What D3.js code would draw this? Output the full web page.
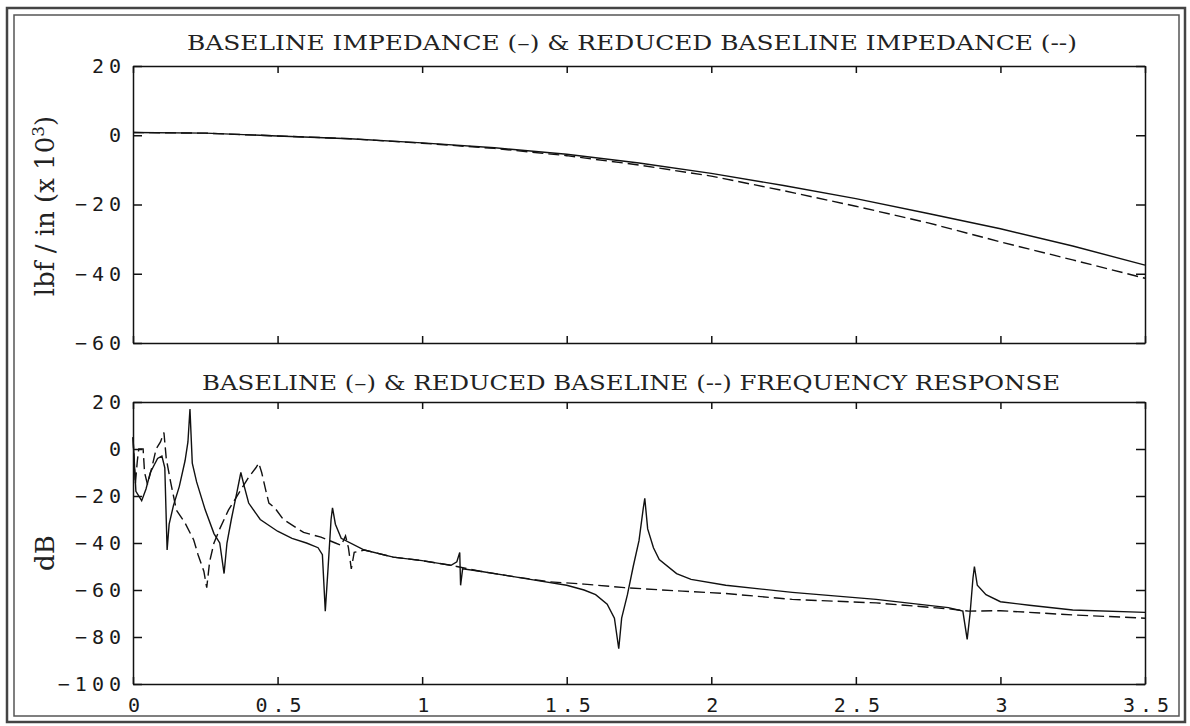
<!DOCTYPE html>
<html>
<head>
<meta charset="utf-8">
<script src="https://cdn.jsdelivr.net/npm/d3@7"></script>
<style>
  body { margin: 0; background: #fff; }
  .tick text { font-family: "DejaVu Sans Mono", monospace; font-size: 20px; fill: #1a1a1a; letter-spacing: 5px; }
  .title { font-family: "DejaVu Serif", serif; font-size: 21px; fill: #222; }
  .axisText { font-family: "DejaVu Serif", serif; fill: #222; }
</style>
</head>
<body>
<script>
// Top panel: impedance (lbf/in x 10^3) vs frequency
var impFreq = [0, 0.25, 0.5, 0.75, 1.0, 1.25, 1.5, 1.75, 2.0, 2.25, 2.5, 2.75, 3.0, 3.25, 3.5];
var impBaseline = [0.8, 0.6, -0.2, -1.0, -2.2, -3.6, -5.5, -8.0, -11.0, -14.5, -18.3, -22.6, -27.0, -32.0, -37.5];
var impReduced = [0.8, 0.6, -0.2, -1.0, -2.3, -3.8, -5.9, -8.6, -11.8, -16.0, -20.5, -25.3, -30.8, -36.0, -41.3];

// Bottom panel: frequency response (dB)
var frfBaseFreq = [0, 0.01, 0.03, 0.045, 0.06, 0.085, 0.1, 0.11, 0.115, 0.118, 0.125, 0.14, 0.16, 0.18, 0.19, 0.197,
  0.205, 0.22, 0.25, 0.28, 0.3, 0.315, 0.325, 0.34, 0.36, 0.373, 0.385, 0.4, 0.44, 0.5, 0.55, 0.6, 0.64, 0.655,
  0.665, 0.675, 0.685, 0.69, 0.7, 0.72, 0.8, 0.9, 1.0, 1.1, 1.12, 1.13, 1.133, 1.14, 1.2, 1.3, 1.4, 1.5, 1.56,
  1.6, 1.64, 1.665, 1.68, 1.69, 1.71, 1.73, 1.75, 1.765, 1.77, 1.78, 1.8, 1.82, 1.88, 1.93, 2.05, 2.28, 2.57,
  2.82, 2.87, 2.885, 2.895, 2.905, 2.91, 2.92, 2.95, 3.0, 3.1, 3.25, 3.5];
var frfBaseDb = [5, -18, -22, -17, -10, -4, -3, -8, -30, -43, -32, -24, -16, -5, 3, 17,
  -6, -14, -26, -36, -40, -53, -40, -30, -18, -10, -16, -23, -30, -35, -38, -40, -42, -45,
  -69, -50, -30, -25, -32, -38, -43, -46, -47.5, -49.5, -48, -44, -58, -51, -52, -54, -56, -58, -60,
  -62, -66, -72, -85, -72, -62, -50, -39, -25, -21, -34, -42, -47, -53, -55.5, -58, -61, -64,
  -67.5, -69, -81, -70, -55, -50, -58, -62, -65, -66.5, -68.5, -69.5];

var frfRedFreq = [0, 0.008, 0.015, 0.02, 0.035, 0.04, 0.05, 0.065, 0.08, 0.095, 0.107, 0.115, 0.13, 0.15, 0.18,
  0.21, 0.225, 0.245, 0.255, 0.265, 0.28, 0.3, 0.33, 0.37, 0.4, 0.425, 0.435, 0.445, 0.46, 0.47, 0.49, 0.52,
  0.59, 0.65, 0.7, 0.72, 0.735, 0.745, 0.755, 0.765, 0.8, 0.9, 1.0, 1.1, 1.2, 1.3, 1.44, 1.56, 1.7, 1.9,
  2.05, 2.28, 2.57, 2.82, 2.89, 3.0, 3.25, 3.5];
var frfRedDb = [5, -15, -5, 0, 0, -10, -15, -8, 0, 3, 7, -4, -14, -26, -31.5,
  -38.7, -45, -52, -59, -48, -40, -34, -26, -18, -12, -8, -6, -10, -18, -23, -25, -30,
  -35.5, -37.5, -40, -41, -37, -42, -51, -44, -43, -46, -47.5, -49.5, -52, -54, -56.5, -57.5, -59, -60.5,
  -61.5, -64, -65.5, -68, -69, -68.8, -70.6, -72];

var freqTicks = [0, 0.5, 1, 1.5, 2, 2.5, 3, 3.5];
var impTicks = [20, 0, -20, -40, -60];
var dbTicks = [20, 0, -20, -40, -60, -80, -100];

var svgWidth = 1190;
var svgHeight = 726;

var svg = d3.select("body")
  .append("svg")
  .attr("width", svgWidth)
  .attr("height", svgHeight);

// double border around the whole figure
svg.append("rect")
  .attr("x", 7).attr("y", 8).attr("width", 1178).attr("height", 714)
  .attr("fill", "none").attr("stroke", "#444").attr("stroke-width", 2.5);
svg.append("rect")
  .attr("x", 14).attr("y", 15).attr("width", 1165).attr("height", 701)
  .attr("fill", "none").attr("stroke", "#555").attr("stroke-width", 1.5);

var xScale = d3.scaleLinear().domain([0, 3.5]).range([133, 1145]);
var yTop = d3.scaleLinear().domain([-60, 20]).range([343, 66]);
var yBot = d3.scaleLinear().domain([-100, 20]).range([684, 402]);

function drawFrame(yScale, ticks, showX) {
  var y0 = yScale.range()[0];
  var y1 = yScale.range()[1];

  var bottomAxis = d3.axisBottom(xScale).tickValues(freqTicks)
    .tickSizeInner(-7).tickSizeOuter(0).tickPadding(14)
    .tickFormat(showX ? d3.format("") : "");
  var g = svg.append("g").attr("transform", `translate(0, ${y0})`).call(bottomAxis);
  g.selectAll("text").attr("dx", 3);

  svg.append("g").attr("transform", `translate(0, ${y1})`)
    .call(d3.axisTop(xScale).tickValues(freqTicks).tickSizeInner(-7).tickSizeOuter(0).tickFormat(""));

  var left = svg.append("g").attr("transform", `translate(${xScale.range()[0]}, 0)`)
    .call(d3.axisLeft(yScale).tickValues(ticks).tickSizeInner(-9).tickSizeOuter(0).tickPadding(12));
  left.selectAll("text").attr("dx", 5);

  svg.append("g").attr("transform", `translate(${xScale.range()[1]}, 0)`)
    .call(d3.axisRight(yScale).tickValues(ticks).tickSizeInner(-9).tickSizeOuter(0).tickFormat(""));

  svg.selectAll(".domain, .tick line").attr("stroke", "#111").attr("stroke-width", 1.5);
}

drawFrame(yTop, impTicks, false);
drawFrame(yBot, dbTicks, true);

function drawLine(xs, ys, yScale, dashed) {
  var pts = xs.map((x, i) => [x, ys[i]]);
  var line = d3.line()
    .x(d => xScale(d[0]))
    .y(d => yScale(d[1]));
  svg.append("path")
    .datum(pts)
    .attr("d", line)
    .attr("fill", "none")
    .attr("stroke", "#111")
    .attr("stroke-width", 1.4)
    .attr("stroke-dasharray", dashed ? "11,5" : null);
}

drawLine(impFreq, impBaseline, yTop, false);
drawLine(impFreq, impReduced, yTop, true);
drawLine(frfBaseFreq, frfBaseDb, yBot, false);
drawLine(frfRedFreq, frfRedDb, yBot, true);

// titles
svg.append("text").attr("class", "title")
  .attr("x", 187).attr("y", 50)
  .attr("textLength", 890).attr("lengthAdjust", "spacingAndGlyphs")
  .text("BASELINE IMPEDANCE (\u2013) & REDUCED BASELINE IMPEDANCE (--)");

svg.append("text").attr("class", "title")
  .attr("x", 202).attr("y", 390)
  .attr("textLength", 858).attr("lengthAdjust", "spacingAndGlyphs")
  .text("BASELINE (\u2013) & REDUCED BASELINE (--) FREQUENCY RESPONSE");

// axis labels
var yLab = svg.append("text").attr("class", "axisText")
  .attr("transform", "translate(54, 206) rotate(-90)")
  .attr("text-anchor", "middle")
  .style("font-size", "26px");
yLab.append("tspan").text("lbf / in (x 10");
yLab.append("tspan").attr("dy", -10).style("font-size", "17px").text("3");
yLab.append("tspan").attr("dy", 10).text(")");

svg.append("text").attr("class", "axisText")
  .attr("transform", "translate(54, 553) rotate(-90)")
  .attr("text-anchor", "middle")
  .style("font-size", "26px")
  .text("dB");
</script>
</body>
</html>
